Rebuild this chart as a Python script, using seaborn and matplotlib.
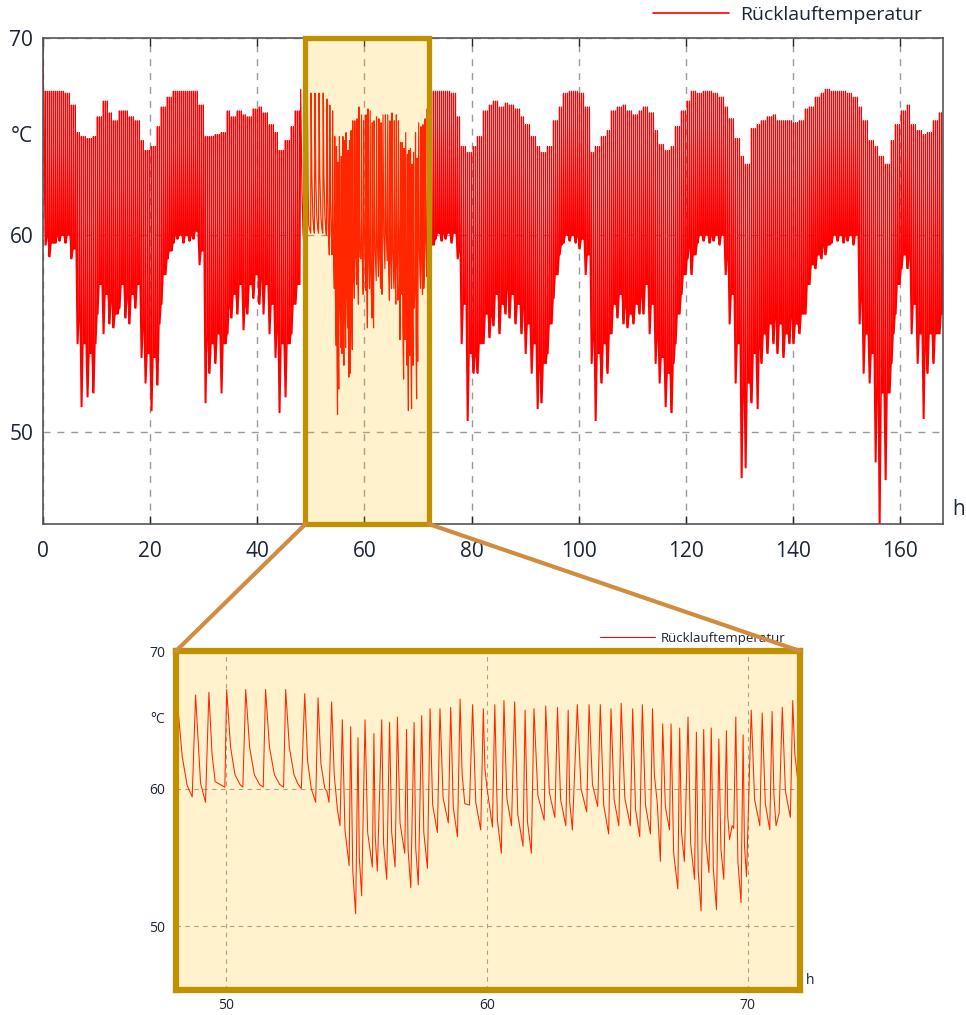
import numpy as np
import pandas as pd
import seaborn as sns
import matplotlib.pyplot as plt
from matplotlib.patches import Rectangle, ConnectionPatch

sns.set_style("white")
plt.rcParams['font.family'] = ['Open Sans', 'DejaVu Sans']

# --- Daten -------------------------------------------------------------
# Stundenwerte der Rücklauftemperatur 0..47 h: Spitzen, übliche Täler, tiefstes Tal
peak_a = [67.3, 67.3, 67.3, 67.3, 67.2, 66.6, 65.2, 65.0, 64.9, 65.0,
          66.0, 66.8, 66.2, 65.8, 66.3, 66.3, 66.0, 65.8, 64.8, 64.3,
          64.5, 65.5, 66.5, 67.0, 67.3, 67.3, 67.3, 67.3, 67.3, 66.6,
          65.0, 65.0, 65.1, 65.2, 66.3, 66.0, 66.3, 66.1, 66.0, 66.4,
          66.5, 66.2, 65.6, 65.2, 64.3, 64.8, 65.5, 66.3]
low_a = [60.0, 59.6, 60.0, 60.0, 60.0, 59.3, 56.0, 54.5, 54.0, 54.5,
         57.5, 57.0, 56.8, 56.0, 57.5, 57.0, 57.0, 57.5, 55.5, 54.0,
         53.8, 55.5, 58.0, 59.2, 60.0, 60.0, 60.0, 60.0, 60.2, 59.2,
         55.0, 54.5, 55.0, 54.5, 56.5, 57.0, 57.5, 56.5, 57.5, 58.0,
         58.0, 57.5, 56.5, 55.5, 54.5, 54.5, 56.5, 57.5]
deep_a = [59.5, 58.9, 59.6, 59.7, 59.6, 58.8, 54.5, 51.3, 51.8, 52.0,
          56.0, 55.0, 55.5, 55.3, 56.3, 55.8, 55.5, 56.3, 53.8, 52.5,
          51.1, 52.4, 56.5, 58.8, 59.6, 59.8, 59.6, 59.7, 59.8, 58.5,
          51.5, 53.0, 53.5, 52.0, 55.0, 55.8, 56.0, 55.2, 56.0, 56.8,
          56.5, 56.0, 55.0, 53.8, 51.0, 51.8, 55.0, 56.5]

# 72..167 h
peak_b = [67.3, 67.3, 67.3, 67.3, 67.2, 66.0, 64.5, 64.2, 64.5, 65.0,
          66.3, 66.6, 66.8, 66.5, 66.7, 66.6, 66.4, 66.0, 65.6, 65.0,
          64.5, 64.2, 64.5, 65.8, 66.5, 67.2, 67.3, 67.3, 67.2, 66.5,
          64.2, 64.5, 65.0, 65.3, 66.3, 66.5, 66.6, 66.3, 66.1, 66.3,
          66.5, 66.2, 65.3, 64.6, 64.3, 64.5, 65.5, 66.3, 66.8, 67.3,
          67.2, 67.3, 67.3, 67.2, 67.0, 66.5, 65.9, 64.9, 64.0, 63.6,
          65.4, 65.6, 65.8, 66.0, 66.1, 65.8, 65.8, 65.8, 65.7, 65.8,
          66.4, 66.5, 67.0, 67.2, 67.4, 67.3, 67.3, 67.3, 67.2, 67.0,
          66.5, 65.8, 64.8, 64.5, 64.0, 63.6, 64.8, 65.6, 66.3, 66.6,
          65.6, 65.3, 65.1, 65.2, 65.8, 66.2]
low_b = [59.5, 60.1, 60.1, 60.1, 60.1, 59.3, 56.5, 54.0, 54.0, 54.5,
         56.0, 56.0, 57.0, 56.5, 57.5, 57.0, 56.5, 56.5, 55.5, 54.5,
         53.5, 53.5, 55.5, 58.0, 59.5, 60.0, 60.0, 60.0, 59.8, 59.0,
         55.0, 54.0, 54.5, 55.0, 56.5, 57.0, 56.5, 56.0, 56.5, 57.0,
         57.5, 56.5, 55.0, 53.8, 53.0, 53.5, 56.0, 58.0, 59.5, 59.0,
         60.0, 60.0, 60.0, 60.0, 60.0, 59.0, 57.0, 54.5, 52.5, 52.5,
         54.0, 54.5, 55.0, 55.5, 56.0, 55.5, 55.0, 56.0, 55.5, 56.0,
         57.5, 58.5, 59.0, 59.5, 59.5, 60.0, 60.0, 60.0, 60.0, 60.0,
         57.0, 55.0, 54.0, 52.5, 52.0, 52.0, 55.0, 57.5, 59.0, 59.0,
         56.5, 55.0, 54.5, 55.0, 55.0, 56.0]
deep_b = [59.3, 59.8, 59.7, 59.8, 59.6, 58.8, 54.5, 50.6, 53.0, 53.0,
          54.5, 54.8, 55.4, 55.0, 56.0, 55.8, 55.5, 55.0, 54.0, 53.0,
          51.2, 51.5, 54.0, 56.8, 59.0, 59.6, 59.7, 59.6, 59.3, 58.0,
          53.5, 50.6, 52.5, 53.0, 55.0, 55.8, 55.5, 55.3, 55.5, 56.0,
          56.0, 55.0, 53.5, 52.5, 51.3, 51.0, 54.5, 57.0, 58.8, 58.0,
          59.6, 59.7, 59.6, 59.7, 59.5, 58.0, 55.5, 52.5, 47.7, 48.2,
          51.5, 51.2, 53.5, 54.0, 54.5, 54.0, 53.8, 54.5, 54.5, 55.0,
          56.0, 57.5, 58.3, 58.8, 59.0, 59.6, 59.7, 59.6, 59.7, 59.5,
          55.5, 53.0, 52.5, 48.5, 45.2, 47.6, 53.5, 56.0, 58.3, 58.3,
          55.0, 53.5, 50.7, 53.0, 53.5, 55.0]

start_value = 69.9
end_value = 59.0

# Detail 48..72 h: Eckpunkte der Kurve (Zeit in h, Temperatur in °C)
zoom_h = [48.00, 48.10, 48.34, 48.53, 48.72, 48.85, 49.04, 49.23, 49.36, 49.48, 49.60, 49.97,
          50.04, 50.19, 50.36, 50.55, 50.66, 50.77, 50.92, 51.10, 51.30, 51.44,
          51.53, 51.68, 51.87, 52.07, 52.22, 52.30, 52.44, 52.62, 52.78, 52.90,
          53.03, 53.14, 53.28, 53.45, 53.54, 53.65, 53.80, 53.88, 53.96,
          54.06, 54.16, 54.28, 54.38, 54.47, 54.57, 54.73, 54.79, 54.87, 54.98,
          55.07, 55.12, 55.21, 55.34, 55.44, 55.62, 55.68, 55.73, 55.81,
          55.98, 56.05, 56.17, 56.28, 56.36, 56.49, 56.58, 56.68, 56.86,
          56.93, 56.99, 57.09, 57.22, 57.28, 57.38, 57.51, 57.59, 57.73,
          57.83, 57.93, 58.11, 58.21, 58.33, 58.53, 58.62, 58.72, 58.88,
          58.98, 59.06, 59.16, 59.34, 59.46, 59.58, 59.77, 59.87, 59.93, 60.00, 60.22,
          60.31, 60.41, 60.56, 60.66, 60.77, 60.95, 61.07, 61.19, 61.39,
          61.47, 61.56, 61.71, 61.81, 61.96, 62.20, 62.26, 62.40, 62.61,
          62.71, 62.83, 63.03, 63.12, 63.18, 63.28, 63.47, 63.61, 63.83,
          63.92, 64.05, 64.25, 64.35, 64.48, 64.67, 64.76, 64.88, 65.06,
          65.15, 65.29, 65.50, 65.59, 65.70, 65.86, 65.96, 66.08, 66.27,
          66.35, 66.42, 66.53, 66.65, 66.74, 66.84, 67.00, 67.06, 67.16, 67.32,
          67.39, 67.46, 67.57, 67.71, 67.81, 67.96, 68.03, 68.10, 68.21,
          68.31, 68.39, 68.51, 68.60, 68.68, 68.80, 68.89, 68.97, 69.08,
          69.18, 69.23, 69.30, 69.40, 69.46, 69.54, 69.62, 69.74, 69.82, 69.87, 69.95,
          70.13, 70.26, 70.46, 70.55, 70.67, 70.84, 70.93, 71.00, 71.08, 71.20,
          71.32, 71.44, 71.63, 71.72, 71.80, 71.95, 72.00]
zoom_T = [59.9, 67.4, 62.3, 60.2, 59.4, 66.8, 60.4, 59.0, 67.0, 62.5, 60.5, 60.1,
          67.2, 63.0, 61.0, 60.3, 60.1, 67.2, 63.0, 61.0, 60.3, 60.1,
          67.2, 63.0, 61.0, 60.3, 60.1, 67.2, 63.0, 61.0, 60.3, 60.0,
          66.9, 62.0, 60.0, 59.0, 66.6, 61.8, 60.0, 59.8, 59.0,
          66.3, 61.0, 58.5, 57.3, 65.0, 57.0, 54.4, 64.5, 54.0, 50.9,
          63.7, 55.0, 52.2, 65.0, 56.8, 54.3, 64.0, 56.5, 54.0,
          65.0, 56.0, 53.4, 64.8, 56.8, 54.3, 65.2, 57.5, 55.3,
          64.3, 55.5, 52.8, 64.8, 55.7, 53.0, 65.3, 56.8, 54.2,
          65.8, 58.8, 56.8, 65.8, 59.3, 57.5, 65.9, 58.6, 56.5,
          66.5, 61.0, 58.9, 58.8, 66.1, 59.0, 57.0, 65.8, 61.5, 60.2, 57.2,
          66.1, 57.7, 55.3, 66.4, 59.3, 57.3, 66.3, 58.1, 55.8,
          65.7, 57.6, 55.3, 65.8, 59.5, 57.7, 66.0, 59.7, 57.9,
          65.9, 59.2, 57.3, 65.7, 59.0, 57.0, 66.1, 60.0, 58.3,
          66.1, 60.3, 58.7, 66.1, 58.8, 56.7, 65.8, 59.2, 57.3,
          66.2, 59.3, 57.3, 65.8, 58.5, 56.5, 66.1, 58.8, 56.7,
          65.8, 61.0, 59.0, 54.7, 64.7, 58.7, 57.0, 64.7, 55.3, 52.7,
          64.4, 56.8, 54.7, 65.2, 56.0, 53.4, 64.1, 54.0, 51.1,
          64.3, 56.2, 53.9, 64.4, 54.1, 51.2, 63.6, 55.6, 53.4,
          64.2, 58.0, 56.3, 57.3, 57.1, 65.2, 54.7, 51.7, 63.9, 55.9, 53.6,
          65.7, 59.2, 57.3, 65.5, 58.9, 57.0, 65.6, 59.5, 57.3, 58.2,
          65.9, 59.8, 57.9, 66.4, 62.5, 60.0, 59.8]

period = 0.3733   # Taktdauer in h
rise = 0.04
fall = 0.16


def takte(t0, t_end, first_hour, peaks, lows, deeps):
    ts, vs = [], []
    seen = set()
    t = t0
    while t < t_end - 1e-9:
        h = int(t)
        i = h - first_hour
        low = lows[i] if h in seen else deeps[i]
        seen.add(h)
        ts += [t, t + rise, t + fall]
        vs += [low, peaks[i], low]
        t += period
    return ts, vs


ta, va = takte(0.4, 48.0, 0, peak_a, low_a, deep_a)
tb, vb = takte(72.1, 168.0, 72, peak_b, low_b, deep_b)
top = pd.DataFrame({'h': [0.0] + ta + zoom_h + tb + [168.0],
                    'T': [start_value] + va + zoom_T + vb + [end_value]})
detail = pd.DataFrame({'h': zoom_h, 'T': zoom_T})

label = 'Rücklauftemperatur'
ylo = 45.35
hl_face = (1.0, 0.753, 0.0, 0.2)
gold = '#BF9000'
txt = '#1b2533'

fig = plt.figure(figsize=(9.66, 10.15), dpi=100)
ax1 = fig.add_axes([0.0445, 0.4837, 0.9317, 0.4789])
ax2 = fig.add_axes([0.1822, 0.0246, 0.6460, 0.3340])

# --- oben: ganze Woche ---
sns.lineplot(data=top, x='h', y='T', ax=ax1, color='red', lw=0.85,
             estimator=None, sort=False, label=label)
ax1.set_xlim(0, 168)
ax1.set_ylim(ylo, 70)
ax1.set_xticks(range(0, 161, 20))
ax1.set_yticks([50, 60, 70])
ax1.set_xlabel('')
ax1.set_ylabel('')
ax1.grid(True, ls=(0, (5, 5)), color='#9a9a9a', lw=1)
ax1.tick_params(axis='x', direction='in', length=6, width=1, top=True, bottom=True,
                pad=12, labelsize=15, colors=txt)
ax1.tick_params(axis='y', direction='in', length=13, width=1, pad=7,
                labelsize=15, colors=txt)
for s in ax1.spines.values():
    s.set_color('#555555')
    s.set_linewidth(1.2)
ax1.add_patch(Rectangle((49, ylo), 23, 70 - ylo, facecolor=hl_face,
                        edgecolor=gold, lw=3.8, zorder=3, clip_on=False))
ax1.text(-0.011, 65, '°C', transform=ax1.get_yaxis_transform(), ha='right',
         va='center', fontsize=15, color=txt)
ax1.text(1.017, 0.029, 'h', transform=ax1.transAxes, ha='center', va='center',
         fontsize=15, color=txt)
leg = ax1.legend(loc='center right', bbox_to_anchor=(0.977, 1.047), frameon=False,
                 fontsize=14, handlelength=3.9, handletextpad=0.6,
                 borderaxespad=0, borderpad=0, labelcolor=txt)
leg.get_lines()[0].set_linewidth(1.2)

# --- unten: Ausschnitt 48..72 h ---
sns.lineplot(data=detail, x='h', y='T', ax=ax2, color='red', lw=0.75,
             estimator=None, sort=False, label=label)
ax2.set_xlim(48.1, 72.0)
ax2.set_ylim(ylo, 70)
ax2.set_xticks([50, 60, 70])
ax2.set_yticks([50, 60, 70])
ax2.set_xlabel('')
ax2.set_ylabel('')
ax2.grid(True, ls=(0, (4, 4)), color='#9a9a9a', lw=0.8)
ax2.tick_params(axis='both', direction='in', length=5, width=1, labelsize=10,
                colors=txt)
ax2.tick_params(axis='x', pad=6)
ax2.tick_params(axis='y', pad=8)
ax2.add_patch(Rectangle((0, 0), 1, 1, transform=ax2.transAxes,
                        facecolor=hl_face, edgecolor='none', zorder=3))
for s in ax2.spines.values():
    s.set_color(gold)
    s.set_linewidth(4.5)
    s.set_zorder(5)
ax2.text(-0.018, 65, '°C', transform=ax2.get_yaxis_transform(), ha='right',
         va='center', fontsize=10, color=txt)
ax2.text(1.016, 0.027, 'h', transform=ax2.transAxes, ha='center', va='center',
         fontsize=10, color=txt)
ax2.legend(loc='center right', bbox_to_anchor=(0.976, 1.038), frameon=False,
           fontsize=9.5, handlelength=4.2, handletextpad=0.4,
           borderaxespad=0, borderpad=0, labelcolor=txt)

# Verbindungslinien
for xa, xb in [(49, 0), (72, 1)]:
    con = ConnectionPatch(xyA=(xa, ylo), coordsA=ax1.transData,
                          xyB=(xb, 1), coordsB=ax2.transAxes,
                          color='#D08C40', lw=3)
    fig.add_artist(con)

plt.savefig('out.png', dpi=100)
